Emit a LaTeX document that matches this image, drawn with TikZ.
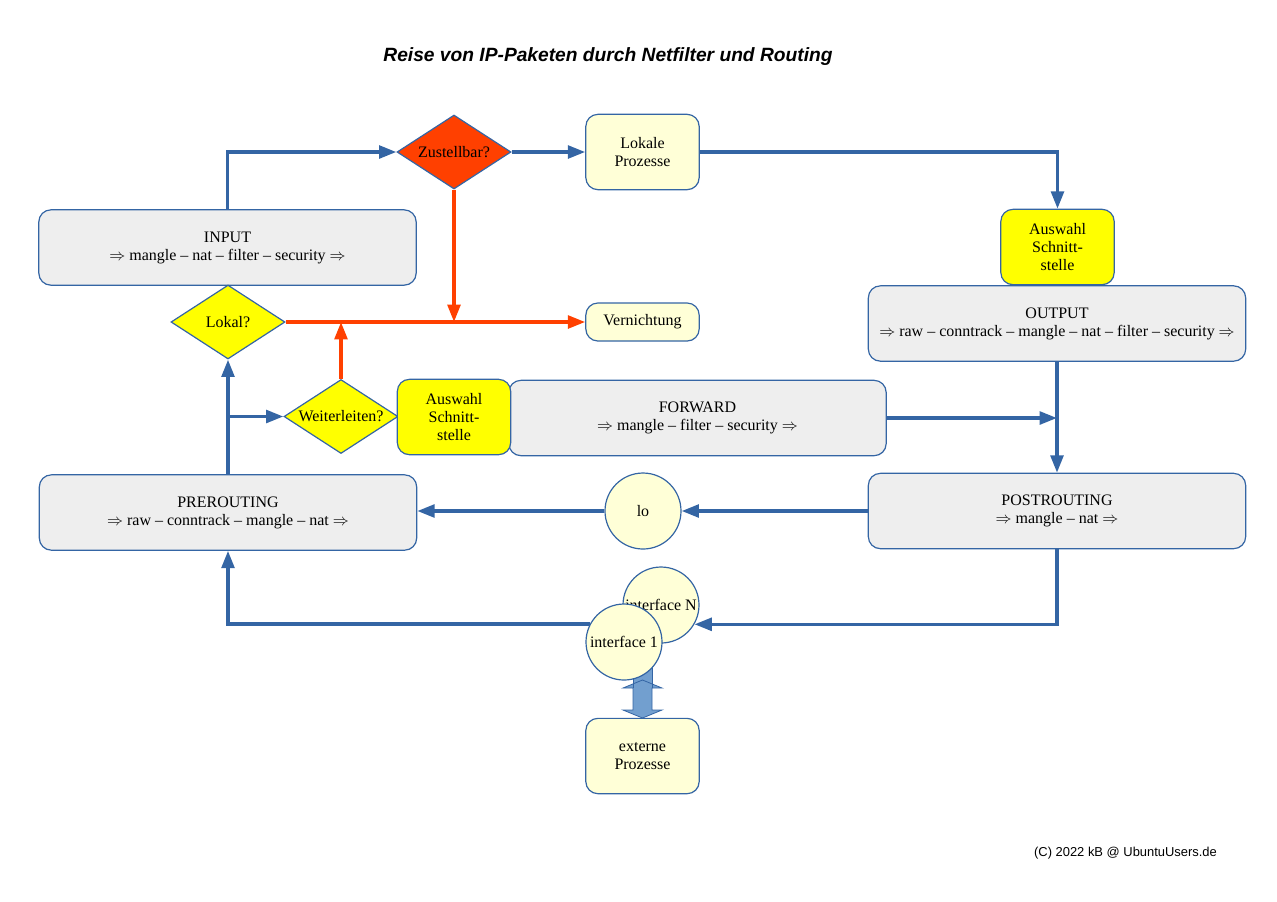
\documentclass[tikz,border=0pt]{standalone}
\usepackage{fontspec}
\setmainfont{Liberation Serif}
\newfontfamily\headfont{Liberation Sans}
\usepackage{xcolor}
\usetikzlibrary{shapes.geometric,arrows.meta,positioning}

\definecolor{nfblue}{HTML}{3465A4}
\definecolor{nfred}{HTML}{FF4000}
\definecolor{nfgray}{HTML}{EEEEEE}
\definecolor{nflight}{HTML}{FFFFD7}
\definecolor{nfyellow}{HTML}{FFFF00}
\definecolor{nfarrow}{HTML}{729FCF}

\begin{document}
\begin{tikzpicture}[
    x=0.75pt, y=-0.75pt,
    every node/.style={font=\fontsize{12pt}{13.5pt}\selectfont},
    box/.style={rectangle, rounded corners=9pt, draw=nfblue, line width=0.9pt, align=center, inner sep=0pt},
    chain/.style={box, fill=nfgray, minimum width=283pt, minimum height=56.5pt},
    proc/.style={box, fill=nflight, minimum width=85pt, minimum height=56.5pt},
    pick/.style={box, fill=nfyellow, minimum width=85pt, minimum height=56.5pt},
    decide/.style={diamond, aspect=1, draw=nfblue, line width=0.9pt, inner sep=0pt, minimum width=85.5pt, minimum height=55.5pt},
    iface/.style={circle, draw=nfblue, line width=0.9pt, fill=nflight, inner sep=0pt, minimum size=57pt},
    flow/.style={draw=nfblue, line width=2.6pt, -{Triangle[length=13pt, width=9.5pt]}},
    drop/.style={flow, draw=nfred}
]
    \useasboundingbox (0,0) rectangle (1277,901);

    % Title
    \node[font=\headfont\bfseries\itshape\fontsize{14.4pt}{17pt}\selectfont] (title) at (608,57) {Reise von IP-Paketen durch Netfilter und Routing};

    % Chains
    \node[chain] (input) at (227.5,247.5) {INPUT\\$\Rightarrow$ mangle -- nat -- filter -- security $\Rightarrow$};
    \node[chain] (output) at (1057,323.5) {OUTPUT\\$\Rightarrow$ raw -- conntrack -- mangle -- nat -- filter -- security $\Rightarrow$};
    \node[chain] (forward) at (697.5,418) {FORWARD\\$\Rightarrow$ mangle -- filter -- security $\Rightarrow$};
    \node[chain] (pre) at (228,512.5) {PREROUTING\\$\Rightarrow$ raw -- conntrack -- mangle -- nat $\Rightarrow$};
    \node[chain] (post) at (1057,511) {POSTROUTING\\$\Rightarrow$ mangle -- nat $\Rightarrow$};

    % Decisions
    \node[decide, fill=nfred] (zust) at (454,152) {\makebox[0pt]{Zustellbar?}};
    \node[decide, fill=nfyellow] (lokal) at (228,322) {\makebox[0pt]{Lokal?}};
    \node[decide, fill=nfyellow] (weiter) at (341,416.5) {\makebox[0pt]{Weiterleiten?}};

    % Processes
    \node[proc] (lokproc) at (642.5,152) {Lokale\\Prozesse};
    \node[proc, minimum height=28.5pt] (vern) at (642.5,322) {Vernichtung};
    \node[proc] (ext) at (642.5,756) {externe\\Prozesse};

    % Interface choice
    \node[pick] (pickout) at (1057.5,247) {Auswahl\\Schnitt-\\stelle};
    \node[pick] (pickfwd) at (454,417) {Auswahl\\Schnitt-\\stelle};

    % Interfaces
    \node[iface] (lo) at (643,511) {lo};
    \node[iface] (intfN) at (661,605) {\makebox[0pt]{interface N}};
    \fill[nfarrow] (633,655) rectangle (652,712);
    \draw[nfblue, line width=0.6pt, fill=nfarrow] (623,688) -- (642.5,680) -- (662,688) -- (652,688) -- (652,710) -- (662,710) -- (642.5,718) -- (623,710) -- (633,710) -- (633,688) -- cycle;
    \draw[nfblue, line width=0.6pt] (652,655) -- (652,688) (633,655) -- (633,688);
    \node[iface] (intf1) at (624,642) {\makebox[0pt]{interface 1}};

    % Blue flow
    \draw[flow] (input.north) |- (zust.west);
    \draw[flow] (zust.east) -- (lokproc.west);
    \draw[flow] (lokproc.east) -| (pickout.north);
    \draw[flow] (output.south) -- (post.north);
    \draw[flow] (forward.east) -- (forward.east -| post.north);
    \draw[flow] (post.west) -- (lo.east);
    \draw[flow] (lo.west) -- (lo.west -| pre.east);
    \draw[flow] (post.south) |- (intfN.-30);
    \draw[flow] (intf1.152) -| (pre.south);
    \draw[flow] (pre.north) -- (lokal.south);
    \draw[flow] (weiter.west -| lokal.south) -- (weiter.west);

    % Red flow
    \draw[drop] (lokal.east) -- (vern.west);
    \draw[drop] (zust.south) -- (zust.south |- vern.west);
    \draw[drop] (weiter.north) -- (weiter.north |- vern.west);

    % Copyright
    \node[font=\headfont\fontsize{9.7pt}{11pt}\selectfont] (copy) at (1125.5,853) {(C) 2022 kB @ UbuntuUsers.de};
\end{tikzpicture}
\end{document}
